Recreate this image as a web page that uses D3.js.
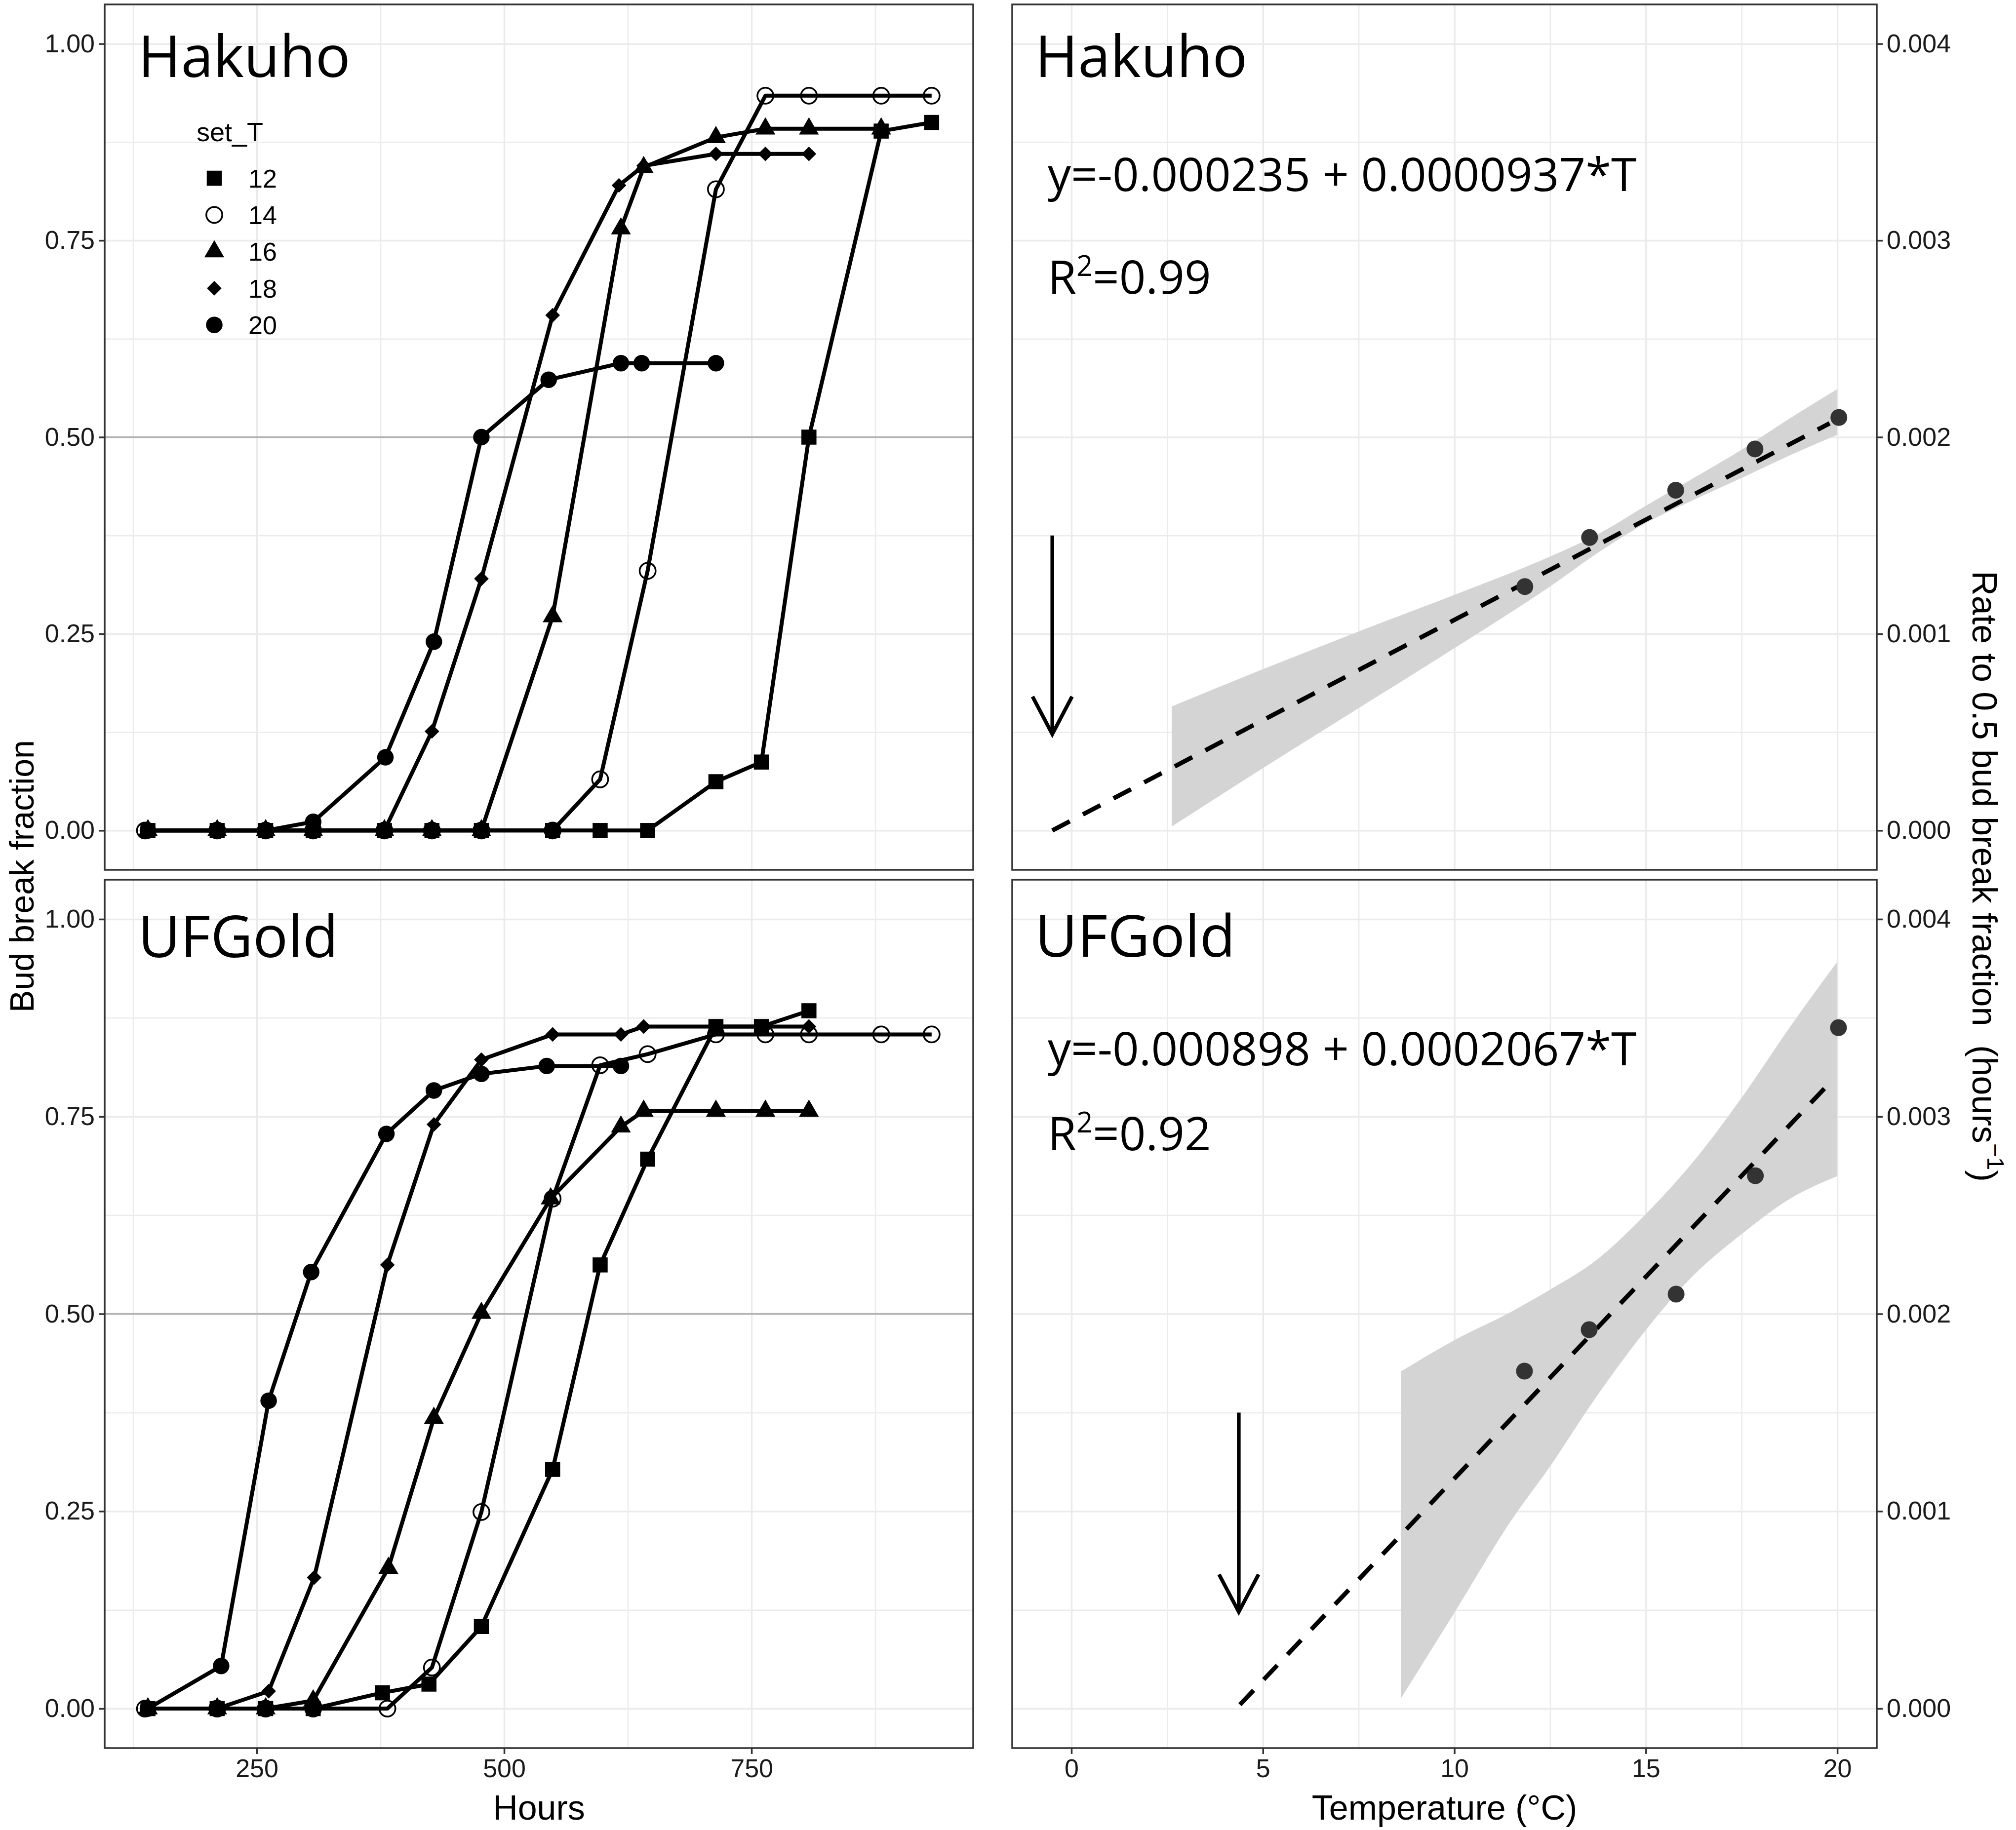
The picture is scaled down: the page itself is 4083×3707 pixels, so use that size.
<!DOCTYPE html>
<html>
<head>
<meta charset="utf-8">
<script src="https://cdn.jsdelivr.net/npm/d3@7"></script>
<style>
  body { margin: 0; background: #fff; }
  text { font-family: "Liberation Sans", Arial, sans-serif; }
  .big { font-family: "Open Sans", sans-serif; fill: #000; }
</style>
</head>
<body>
<div id="chart"></div>
<script>
// ---- data ----
var setT = [12, 14, 16, 18, 20];
var hourTicks = [250, 500, 750];
var hourMinor = [125, 375, 625, 875];
var fracTicks = [0, 0.25, 0.5, 0.75, 1];
var fracMinor = [0.125, 0.375, 0.625, 0.875];
var tempTicks = [0, 5, 10, 15, 20];
var tempMinor = [2.5, 7.5, 12.5, 17.5];
var rateTicks = [0, 0.001, 0.002, 0.003, 0.004];
var rateMinor = [0.0005, 0.0015, 0.0025, 0.0035];

// [hours, bud break fraction]
var hakuho12 = [[140,0],[210,0],[259,0],[307,0],[379,0],[427,0],[477,0],[549,0],[597,0],[645,0],[714,0.062],[760,0.087],[808,0.5],[881,0.889],[932,0.9]];
var hakuho14 = [[137,0],[210,0],[259,0],[307,0],[379,0],[427,0],[477,0],[549,0],[597,0.065],[645,0.33],[714,0.815],[764,0.934],[808,0.934],[881,0.934],[932,0.934]];
var hakuho16 = [[140,0],[210,0],[259,0],[307,0],[379,0],[427,0],[477,0],[549,0.272],[618,0.765],[641,0.843],[714,0.881],[764,0.892],[808,0.892],[881,0.892]];
var hakuho18 = [[140,0],[210,0],[259,0],[307,0],[379,0],[427,0.126],[477,0.32],[549,0.655],[616,0.82],[641,0.845],[714,0.86],[764,0.86],[808,0.86]];
var hakuho20 = [[140,0],[210,0],[259,0],[307,0.011],[380,0.093],[429,0.24],[477,0.5],[545,0.573],[618,0.594],[639,0.594],[714,0.594]];

var ufgold12 = [[140,0],[210,0],[259,0],[307,0],[377,0.02],[424,0.031],[477,0.104],[549,0.303],[597,0.562],[645,0.696],[714,0.864],[760,0.864],[808,0.884]];
var ufgold14 = [[137,0],[210,0],[259,0],[307,0],[382,0],[427,0.052],[477,0.249],[549,0.646],[597,0.815],[645,0.829],[714,0.854],[764,0.854],[808,0.854],[881,0.854],[932,0.854]];
var ufgold16 = [[140,0],[210,0],[259,0],[307,0.01],[383,0.178],[429,0.368],[477,0.501],[547,0.646],[618,0.737],[641,0.757],[714,0.757],[764,0.757],[808,0.757]];
var ufgold18 = [[140,0],[210,0],[262,0.022],[308,0.166],[382,0.562],[429,0.74],[477,0.822],[549,0.854],[618,0.854],[641,0.864],[714,0.864],[764,0.864],[808,0.864]];
var ufgold20 = [[140,0],[214,0.054],[262,0.39],[305,0.553],[381,0.728],[429,0.783],[477,0.804],[543,0.814],[618,0.814]];

// temperature (C) vs rate to 0.5 bud break (1/h)
var hakuhoTemp = [11.84, 13.53, 15.78, 17.85, 20.04];
var hakuhoRate = [0.00124, 0.00149, 0.00173, 0.00194, 0.0021];
var ufgoldTemp = [11.83, 13.52, 15.79, 17.86, 20.03];
var ufgoldRate = [0.00171, 0.00192, 0.0021, 0.0027, 0.00345];

// fitted line end points and confidence band
var hakuhoFit = [[-0.5, 0], [19.8, 0.00207]];
var ufgoldFit = [[4.4, 0.00002], [19.85, 0.00318]];
var hakuhoBandT  = [2.62, 5, 7.5, 10, 12.5, 13.8, 15, 16.25, 17.5, 18.7, 20];
var hakuhoBandLo = [0.00002, 0.000317, 0.000622, 0.000927, 0.001241, 0.001419, 0.001563, 0.001681, 0.001792, 0.001902, 0.002012];
var hakuhoBandHi = [0.000631, 0.00082, 0.001012, 0.001198, 0.001393, 0.001512, 0.001651, 0.001792, 0.001936, 0.002088, 0.002244];
var ufgoldBandT  = [8.6, 10, 11.46, 12.5, 13.73, 15, 16.2, 17.5, 18.76, 20];
var ufgoldBandLo = [0.000051, 0.000486, 0.000946, 0.001228, 0.001586, 0.001918, 0.002187, 0.002404, 0.002583, 0.002698];
var ufgoldBandHi = [0.001708, 0.001867, 0.002008, 0.002123, 0.002276, 0.002506, 0.002762, 0.003095, 0.003453, 0.003785];

// base temperature arrows: [T, rate top, rate tip]
var hakuhoArrow = [-0.5, 0.0015, 0.00049];
var ufgoldArrow = [4.37, 0.0015, 0.00049];

var W = 4083, H = 3707;
var leftX = [212, 1971], rightX = [2050, 3801];
var rows = [[9, 1762], [1782, 3541]];

var svg = d3.select('#chart').append('svg')
	.attr('width', W)
	.attr('height', H)
	.style('background', '#fff');

var xHours = d3.scaleLinear().domain([96.3, 974]).range(leftX);
var xTemp = d3.scaleLinear().domain([-1.547, 21.03]).range(rightX);
var yFrac = rows.map(function(r) { return d3.scaleLinear().domain([-0.05, 1.05]).range([r[1], r[0]]); });
var yRate = rows.map(function(r) { return d3.scaleLinear().domain([-0.0002, 0.0042]).range([r[1], r[0]]); });

var shapes = {
	12: { type: d3.symbolSquare, size: 930, fill: '#000', rot: 0 },
	14: { type: d3.symbolCircle, size: 820, fill: 'none', rot: 0 },
	16: { type: d3.symbolTriangle, size: 700, fill: '#000', rot: 0 },
	18: { type: d3.symbolSquare, size: 440, fill: '#000', rot: 45 },
	20: { type: d3.symbolCircle, size: 880, fill: '#000', rot: 0 }
};

function drawMarker(g, t, x, y) {
	var s = shapes[t];
	g.append('path')
		.attr('d', d3.symbol().type(s.type).size(s.size)())
		.attr('transform', 'translate(' + x + ',' + y + ') rotate(' + s.rot + ')')
		.attr('fill', s.fill)
		.attr('stroke', t === 14 ? '#000' : 'none')
		.attr('stroke-width', 3.5);
}

function grid(g, x, y, xr, yr, xMaj, xMin, yMaj, yMin) {
	var gg = g.append('g');
	function vlines(vals, w) {
		gg.append('g').attr('transform', 'translate(0,' + yr[1] + ')')
			.call(d3.axisBottom(x).tickValues(vals).tickSize(-(yr[1] - yr[0])).tickFormat(''))
			.call(function(a) {
				a.select('.domain').remove();
				a.selectAll('line').attr('stroke', '#ebebeb').attr('stroke-width', w);
			});
	}
	function hlines(vals, w) {
		gg.append('g').attr('transform', 'translate(' + xr[0] + ',0)')
			.call(d3.axisLeft(y).tickValues(vals).tickSize(-(xr[1] - xr[0])).tickFormat(''))
			.call(function(a) {
				a.select('.domain').remove();
				a.selectAll('line').attr('stroke', '#ebebeb').attr('stroke-width', w);
			});
	}
	vlines(xMin, 2.5); hlines(yMin, 2.5);
	vlines(xMaj, 3.5); hlines(yMaj, 3.5);
}

function styleAxis(a) {
	a.select('.domain').remove();
	a.selectAll('line').attr('stroke', '#333').attr('stroke-width', 3.5);
	a.selectAll('text').attr('fill', '#1a1a1a').style('font-size', '52px').style('font-family', '"Liberation Sans", Arial, sans-serif');
}

function clip(id, xr, yr) {
	svg.append('clipPath').attr('id', id).append('rect')
		.attr('x', xr[0]).attr('y', yr[0]).attr('width', xr[1] - xr[0]).attr('height', yr[1] - yr[0]);
}

// ---- left panels: bud break vs hours ----
var leftData = [
	{ name: 'Hakuho', series: [hakuho12, hakuho14, hakuho16, hakuho18, hakuho20], labelY: 0.958 },
	{ name: 'UFGold', series: [ufgold12, ufgold14, ufgold16, ufgold18, ufgold20], labelY: 0.952 }
];

leftData.forEach(function(p, i) {
	var yr = rows[i], y = yFrac[i];
	var g = svg.append('g');
	grid(g, xHours, y, leftX, yr, hourTicks, hourMinor, fracTicks, fracMinor);
	clip('clipL' + i, leftX, yr);
	var inner = g.append('g').attr('clip-path', 'url(#clipL' + i + ')');

	inner.append('line')
		.attr('x1', leftX[0]).attr('x2', leftX[1])
		.attr('y1', y(0.5)).attr('y2', y(0.5))
		.attr('stroke', '#b3b3b3').attr('stroke-width', 3.5);

	var line = d3.line().x(function(d) { return xHours(d[0]); }).y(function(d) { return y(d[1]); });
	p.series.forEach(function(s) {
		inner.append('path').attr('d', line(s))
			.attr('fill', 'none').attr('stroke', '#000').attr('stroke-width', 8)
			.attr('stroke-linejoin', 'round');
	});
	p.series.forEach(function(s, k) {
		s.forEach(function(d) { drawMarker(inner, setT[k], xHours(d[0]), y(d[1])); });
	});

	g.append('text').attr('class', 'big')
		.attr('x', xHours(130)).attr('y', y(p.labelY))
		.style('font-size', '118px')
		.text(p.name);

	g.append('rect')
		.attr('x', leftX[0]).attr('y', yr[0])
		.attr('width', leftX[1] - leftX[0]).attr('height', yr[1] - yr[0])
		.attr('fill', 'none').attr('stroke', '#333').attr('stroke-width', 3.5);

	g.append('g').attr('transform', 'translate(' + leftX[0] + ',0)')
		.call(d3.axisLeft(y).tickValues(fracTicks).tickFormat(d3.format('.2f')).tickSize(12).tickPadding(8))
		.call(styleAxis);

	if (i === 1) {
		g.append('g').attr('transform', 'translate(0,' + yr[1] + ')')
			.call(d3.axisBottom(xHours).tickValues(hourTicks).tickSize(12).tickPadding(10))
			.call(styleAxis);
	}
});

// legend
var leg = svg.append('g').attr('transform', 'translate(398,286)');
leg.append('text').text('set_T').style('font-size', '54px').attr('fill', '#000');
setT.forEach(function(t, k) {
	var cy = 75 + k * 74.3;
	drawMarker(leg, t, 36, cy);
	leg.append('text').attr('x', 105).attr('y', cy).attr('dy', '0.36em')
		.style('font-size', '52px').attr('fill', '#000').text(t);
});

// ---- right panels: rate vs temperature ----
var rightData = [
	{ name: 'Hakuho', temp: hakuhoTemp, rate: hakuhoRate, fit: hakuhoFit,
	  bandT: hakuhoBandT, lo: hakuhoBandLo, hi: hakuhoBandHi, arrow: hakuhoArrow,
	  eq: 'y=-0.000235 + 0.0000937*T', r2: '=0.99', eqY: 0.00325, r2Y: 0.00273, labelY: 0.00383 },
	{ name: 'UFGold', temp: ufgoldTemp, rate: ufgoldRate, fit: ufgoldFit,
	  bandT: ufgoldBandT, lo: ufgoldBandLo, hi: ufgoldBandHi, arrow: ufgoldArrow,
	  eq: 'y=-0.000898 + 0.0002067*T', r2: '=0.92', eqY: 0.00326, r2Y: 0.00283, labelY: 0.00381 }
];

rightData.forEach(function(p, i) {
	var yr = rows[i], y = yRate[i];
	var g = svg.append('g');
	grid(g, xTemp, y, rightX, yr, tempTicks, tempMinor, rateTicks, rateMinor);
	clip('clipR' + i, rightX, yr);
	var inner = g.append('g').attr('clip-path', 'url(#clipR' + i + ')');

	var area = d3.area().curve(d3.curveMonotoneX)
		.x(function(d, k) { return xTemp(p.bandT[k]); })
		.y0(function(d, k) { return y(p.lo[k]); })
		.y1(function(d, k) { return y(p.hi[k]); });
	inner.append('path').attr('d', area(p.bandT)).attr('fill', '#d4d4d4');

	inner.append('path')
		.attr('d', d3.line().x(function(d) { return xTemp(d[0]); }).y(function(d) { return y(d[1]); })(p.fit))
		.attr('fill', 'none').attr('stroke', '#000').attr('stroke-width', 9)
		.attr('stroke-dasharray', '40 30');

	inner.selectAll('circle.pt').data(p.temp).enter().append('circle')
		.attr('class', 'pt')
		.attr('cx', function(d) { return xTemp(d); })
		.attr('cy', function(d, k) { return y(p.rate[k]); })
		.attr('r', 17)
		.attr('fill', '#333');

	// arrow
	var ax = xTemp(p.arrow[0]), ay0 = y(p.arrow[1]), ay1 = y(p.arrow[2]);
	inner.append('line').attr('x1', ax).attr('x2', ax).attr('y1', ay0).attr('y2', ay1)
		.attr('stroke', '#000').attr('stroke-width', 7.5);
	inner.append('path')
		.attr('d', d3.line()([[ax - 40, ay1 - 76], [ax, ay1], [ax + 40, ay1 - 76]]))
		.attr('fill', 'none').attr('stroke', '#000').attr('stroke-width', 7.5);

	g.append('text').attr('class', 'big')
		.attr('x', xTemp(-0.95)).attr('y', y(p.labelY))
		.style('font-size', '118px').text(p.name);
	g.append('text').attr('class', 'big')
		.attr('x', xTemp(-0.62)).attr('y', y(p.eqY))
		.style('font-size', '94px').text(p.eq);
	var r2 = g.append('text').attr('class', 'big')
		.attr('x', xTemp(-0.62)).attr('y', y(p.r2Y))
		.style('font-size', '94px');
	r2.append('tspan').text('R');
	r2.append('tspan').attr('dy', -36).style('font-size', '58px').text('2');
	r2.append('tspan').attr('dy', 36).text(p.r2);

	g.append('rect')
		.attr('x', rightX[0]).attr('y', yr[0])
		.attr('width', rightX[1] - rightX[0]).attr('height', yr[1] - yr[0])
		.attr('fill', 'none').attr('stroke', '#333').attr('stroke-width', 3.5);

	g.append('g').attr('transform', 'translate(' + rightX[1] + ',0)')
		.call(d3.axisRight(y).tickValues(rateTicks).tickFormat(d3.format('.3f')).tickSize(12).tickPadding(8))
		.call(styleAxis);

	if (i === 1) {
		g.append('g').attr('transform', 'translate(0,' + yr[1] + ')')
			.call(d3.axisBottom(xTemp).tickValues(tempTicks).tickSize(12).tickPadding(10))
			.call(styleAxis);
	}
});

// ---- axis titles ----
var midY = (rows[0][0] + rows[1][1]) / 2;
svg.append('text')
	.attr('transform', 'translate(68,' + midY + ') rotate(-90)')
	.attr('text-anchor', 'middle')
	.style('font-size', '68px').attr('fill', '#000')
	.text('Bud break fraction');

var rt = svg.append('text')
	.attr('transform', 'translate(3995,' + midY + ') rotate(90)')
	.attr('text-anchor', 'middle')
	.style('font-size', '70px').style('white-space', 'pre').attr('fill', '#000');
rt.append('tspan').text('Rate to 0.5 bud break fraction  (hours');
rt.append('tspan').attr('dy', -30).style('font-size', '48px').text('\u22121');
rt.append('tspan').attr('dy', 30).text(')');

svg.append('text')
	.attr('x', (leftX[0] + leftX[1]) / 2).attr('y', 3686)
	.attr('text-anchor', 'middle')
	.style('font-size', '70px').attr('fill', '#000')
	.text('Hours');
svg.append('text')
	.attr('x', (rightX[0] + rightX[1]) / 2).attr('y', 3686)
	.attr('text-anchor', 'middle')
	.style('font-size', '70px').attr('fill', '#000')
	.text('Temperature (\u00b0C)');
</script>
</body>
</html>
